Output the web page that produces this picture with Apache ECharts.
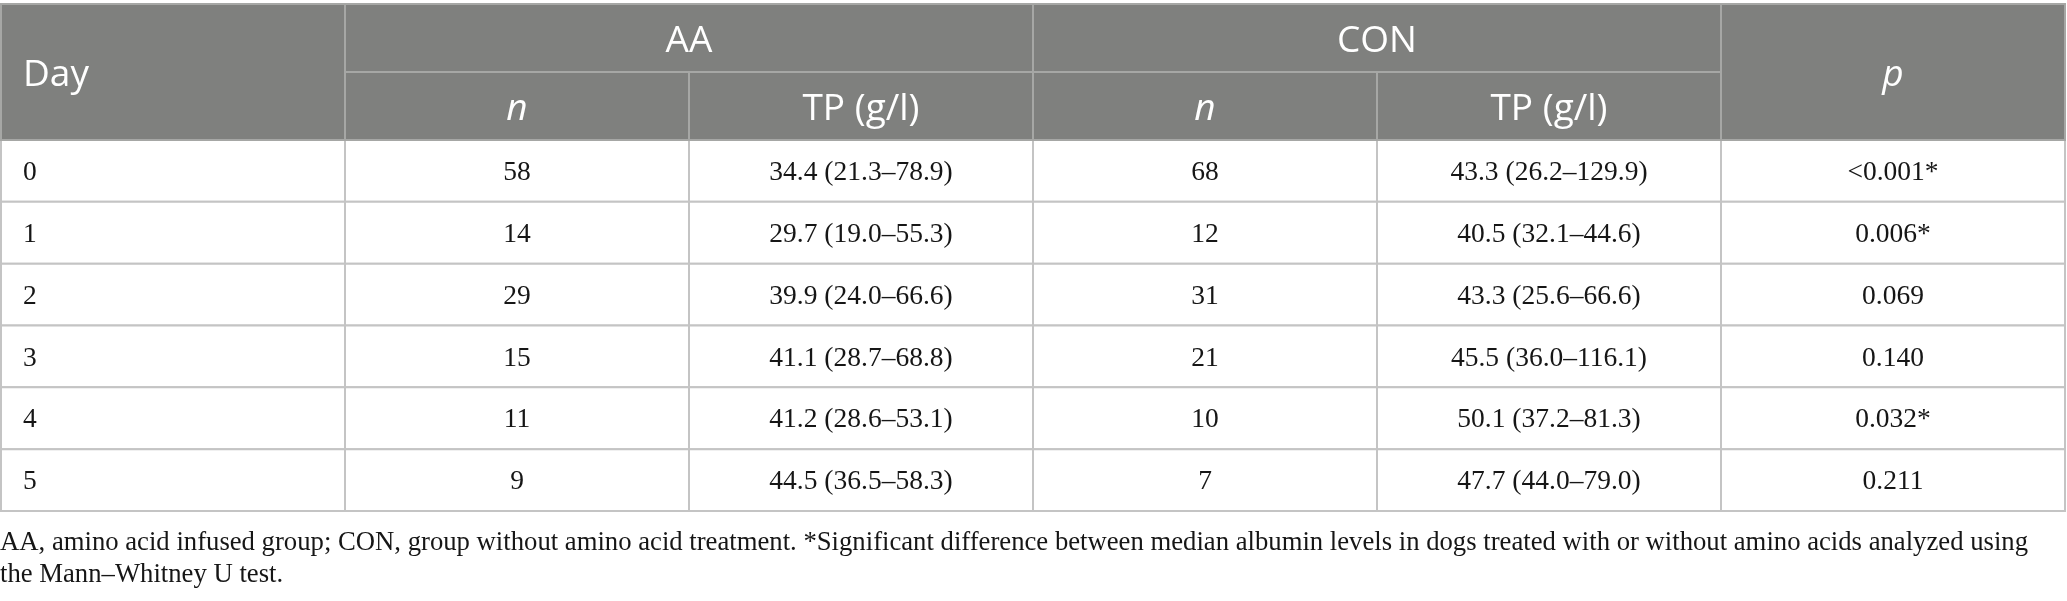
<!DOCTYPE html>
<html>
<head>
<meta charset="utf-8">
<script src="https://cdn.jsdelivr.net/npm/echarts@6/dist/echarts.min.js"></script>
<style>
  html, body { margin: 0; padding: 0; background: #fff; }
  #charts { width: 2067px; height: 601px; }
</style>
</head>
<body>
<div id="charts"></div>
<script>
// table contents
var days = ['0', '1', '2', '3', '4', '5'];
var aaN = ['58', '14', '29', '15', '11', '9'];
var aaTP = ['34.4 (21.3–78.9)', '29.7 (19.0–55.3)', '39.9 (24.0–66.6)', '41.1 (28.7–68.8)', '41.2 (28.6–53.1)', '44.5 (36.5–58.3)'];
var conN = ['68', '12', '31', '21', '10', '7'];
var conTP = ['43.3 (26.2–129.9)', '40.5 (32.1–44.6)', '43.3 (25.6–66.6)', '45.5 (36.0–116.1)', '50.1 (37.2–81.3)', '47.7 (44.0–79.0)'];
var pValues = ['<0.001*', '0.006*', '0.069', '0.140', '0.032*', '0.211'];
var groupHeads = ['AA', 'CON'];
var subHeads = ['n', 'TP (g/l)'];
var footnote = 'AA, amino acid infused group; CON, group without amino acid treatment. *Significant difference between median albumin levels in dogs treated with or without amino acids analyzed using\nthe Mann–Whitney U test.';

var HEAD_ROW = 1.1;   // header rows are a bit taller than body rows
var bodyTop = HEAD_ROW * 2;

// cells: [col0, col1, row0, row1], with text + kind kept alongside
var cells = [];
var cellText = [];
var cellKind = [];
function addCell(c0, c1, r0, r1, text, kind) {
    cells.push([c0, c1, r0, r1]);
    cellText.push(text);
    cellKind.push(kind);
}

addCell(0, 1, 0, bodyTop, 'Day', 'headLeft');
addCell(1, 3, 0, HEAD_ROW, groupHeads[0], 'head');
addCell(3, 5, 0, HEAD_ROW, groupHeads[1], 'head');
addCell(5, 6, 0, bodyTop, 'p', 'headItalic');
addCell(1, 2, HEAD_ROW, bodyTop, subHeads[0], 'headItalic');
addCell(2, 3, HEAD_ROW, bodyTop, subHeads[1], 'head');
addCell(3, 4, HEAD_ROW, bodyTop, subHeads[0], 'headItalic');
addCell(4, 5, HEAD_ROW, bodyTop, subHeads[1], 'head');

var bodyCols = [days, aaN, aaTP, conN, conTP, pValues];
for (var i = 0; i < days.length; i++) {
    for (var c = 0; c < bodyCols.length; c++) {
        addCell(c, c + 1, bodyTop + i, bodyTop + i + 1, bodyCols[c][i], c == 0 ? 'bodyLeft' : 'body');
    }
}

// body cells first so header strokes sit on top
var order = [];
for (var k = 0; k < cells.length; k++) if (cellKind[k].indexOf('body') == 0) order.push(k);
for (var k = 0; k < cells.length; k++) if (cellKind[k].indexOf('head') == 0) order.push(k);

function renderItem(params, api) {
    var idx = order[params.dataIndex];
    var cell = cells[idx];
    var kind = cellKind[idx];
    var p0 = api.coord([cell[0], cell[2]]);
    var p1 = api.coord([cell[1], cell[3]]);
    var isHead = kind.indexOf('head') == 0;
    var left = kind == 'headLeft' || kind == 'bodyLeft';
    var midY = (p0[1] + p1[1]) / 2;
    return {
        type: 'group',
        children: [{
            type: 'rect',
            shape: { x: p0[0], y: p0[1], width: p1[0] - p0[0], height: p1[1] - p0[1] },
            style: {
                fill: isHead ? '#7f807e' : '#ffffff',
                stroke: isHead ? '#a6a7a5' : '#c4c4c4',
                lineWidth: 2
            }
        }, {
            type: 'text',
            x: left ? p0[0] + 22 : (p0[0] + p1[0]) / 2,
            y: midY + (isHead ? 3 : 2),
            style: {
                text: cellText[idx],
                fill: isHead ? '#ffffff' : '#161616',
                font: (kind == 'headItalic' ? 'italic ' : '') + (isHead ? '37px "Open Sans"' : '27.5px "Liberation Serif"'),
                align: left ? 'left' : 'center',
                verticalAlign: 'middle'
            }
        }]
    };
}

var myChart = echarts.init(document.getElementById('charts'));
var option = {
    animation: false,
    title: {
        text: footnote,
        left: 0,
        top: 527,
        padding: 0,
        textStyle: {
            fontFamily: 'Liberation Serif',
            fontSize: 26.7,
            fontWeight: 'normal',
            color: '#161616',
            lineHeight: 32
        }
    },
    grid: { left: 1, right: 2, top: 4, bottom: 90 },
    xAxis: { type: 'value', min: 0, max: 6, show: false },
    yAxis: { type: 'value', min: 0, max: bodyTop + days.length, inverse: true, show: false },
    series: [{
        type: 'custom',
        renderItem: renderItem,
        data: order.map(function (k) { return cells[k]; }),
        encode: { x: [0, 1], y: [2, 3] }
    }]
};
myChart.setOption(option);
</script>
</body>
</html>
